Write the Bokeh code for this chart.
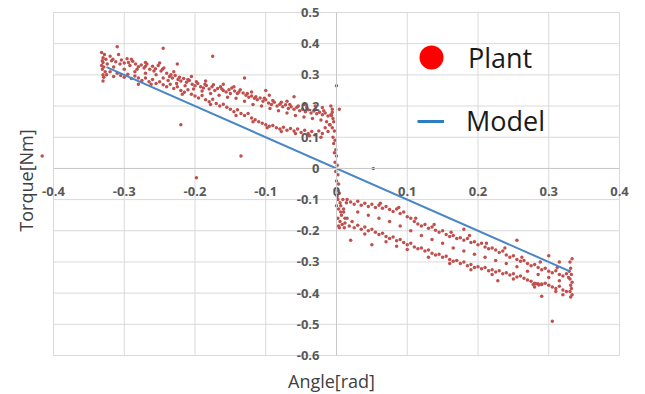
import math
from bokeh.plotting import figure
from bokeh.models import (Range1d, FixedTicker, Label, Legend, LegendItem,
                          ColumnDataSource)
from bokeh.embed import file_html
from bokeh.resources import INLINE

# ---------------- data ----------------
x_ticks = [-0.4, -0.3, -0.2, -0.1, 0.0, 0.1, 0.2, 0.3, 0.4]
x_tick_labels = ["-0.4", "-0.3", "-0.2", "-0.1", "0", "0.1", "0.2", "0.3", "0.4"]
y_ticks = [-0.6, -0.5, -0.4, -0.3, -0.2, -0.1, 0.0, 0.1, 0.2, 0.3, 0.4, 0.5]
y_tick_labels = ["-0.6", "-0.5", "-0.4", "-0.3", "-0.2", "-0.1", "0",
                 "0.1", "0.2", "0.3", "0.4", "0.5"]

# Plant: upper branch, negative angles
left_upper = [
    (-0.330, 0.355), (-0.330, 0.340), (-0.329, 0.325), (-0.328, 0.365), (-0.327, 0.310),
    (-0.326, 0.350), (-0.324, 0.335), (-0.320, 0.360), (-0.316, 0.350), (-0.312, 0.342),
    (-0.308, 0.365), (-0.304, 0.348), (-0.300, 0.338), (-0.296, 0.352), (-0.292, 0.330),
    (-0.288, 0.344), (-0.284, 0.335), (-0.280, 0.326), (-0.276, 0.332), (-0.272, 0.322),
    (-0.268, 0.335), (-0.264, 0.318), (-0.260, 0.328), (-0.256, 0.320), (-0.252, 0.330),
    (-0.248, 0.312), (-0.244, 0.322), (-0.240, 0.305), (-0.236, 0.295), (-0.232, 0.290),
    (-0.228, 0.298), (-0.224, 0.285), (-0.220, 0.280), (-0.216, 0.288), (-0.212, 0.276),
    (-0.208, 0.282), (-0.204, 0.270), (-0.200, 0.265), (-0.196, 0.272), (-0.192, 0.262),
    (-0.188, 0.258), (-0.184, 0.266), (-0.180, 0.255), (-0.176, 0.262), (-0.172, 0.250),
    (-0.168, 0.256), (-0.164, 0.262), (-0.160, 0.250), (-0.156, 0.245), (-0.152, 0.252),
    (-0.148, 0.258), (-0.144, 0.248), (-0.140, 0.240), (-0.136, 0.252), (-0.132, 0.242),
    (-0.128, 0.235), (-0.124, 0.228), (-0.120, 0.232), (-0.116, 0.225), (-0.112, 0.220),
    (-0.108, 0.226), (-0.104, 0.215), (-0.100, 0.220), (-0.096, 0.210), (-0.092, 0.205),
    (-0.088, 0.212), (-0.084, 0.200), (-0.080, 0.206), (-0.076, 0.198), (-0.072, 0.204),
    (-0.068, 0.192), (-0.064, 0.198), (-0.060, 0.190), (-0.056, 0.196), (-0.052, 0.185),
    (-0.048, 0.190), (-0.044, 0.182), (-0.040, 0.188), (-0.036, 0.178), (-0.032, 0.184),
    (-0.028, 0.175), (-0.024, 0.180), (-0.020, 0.172), (-0.016, 0.178), (-0.012, 0.168),
    (-0.008, 0.172),
    (-0.318, 0.345), (-0.306, 0.335), (-0.294, 0.340), (-0.282, 0.318), (-0.270, 0.328),
    (-0.258, 0.312), (-0.246, 0.318), (-0.234, 0.300), (-0.222, 0.292), (-0.210, 0.285),
    (-0.198, 0.278), (-0.186, 0.270), (-0.174, 0.268), (-0.162, 0.255), (-0.150, 0.240),
    (-0.138, 0.245), (-0.126, 0.240), (-0.114, 0.230), (-0.102, 0.225), (-0.090, 0.218),
    (-0.078, 0.212), (-0.066, 0.205), (-0.054, 0.200), (-0.042, 0.195), (-0.030, 0.190),
    (-0.018, 0.185), (-0.006, 0.180),
]

# Plant: scattered points between the two negative-angle branches
left_middle = [
    (-0.315, 0.325), (-0.300, 0.318), (-0.285, 0.310), (-0.270, 0.305), (-0.255, 0.300),
    (-0.245, 0.290), (-0.238, 0.282), (-0.226, 0.272), (-0.214, 0.265), (-0.202, 0.255),
    (-0.190, 0.248), (-0.178, 0.240), (-0.166, 0.235), (-0.154, 0.228), (-0.142, 0.225),
    (-0.130, 0.215), (-0.118, 0.205), (-0.106, 0.200), (-0.094, 0.192), (-0.082, 0.185),
    (-0.070, 0.178), (-0.058, 0.170), (-0.046, 0.165), (-0.034, 0.160), (-0.022, 0.155),
    (-0.014, 0.150), (-0.270, 0.340), (-0.250, 0.338), (-0.230, 0.310), (-0.205, 0.295),
    (-0.185, 0.280), (-0.160, 0.270), (-0.145, 0.262), (-0.120, 0.245), (-0.095, 0.235),
    (-0.070, 0.215), (-0.045, 0.205), (-0.020, 0.195),
]

# Plant: lower branch, negative angles
left_lower = [
    (-0.325, 0.300), (-0.320, 0.310), (-0.315, 0.295), (-0.310, 0.305), (-0.305, 0.298),
    (-0.300, 0.292), (-0.295, 0.302), (-0.290, 0.288), (-0.285, 0.296), (-0.280, 0.290),
    (-0.275, 0.282), (-0.270, 0.290), (-0.265, 0.278), (-0.260, 0.285), (-0.255, 0.272),
    (-0.250, 0.278), (-0.245, 0.268), (-0.240, 0.262), (-0.235, 0.270), (-0.230, 0.256),
    (-0.225, 0.262), (-0.220, 0.250), (-0.215, 0.244), (-0.210, 0.252), (-0.205, 0.238),
    (-0.200, 0.232), (-0.195, 0.226), (-0.190, 0.234), (-0.185, 0.220), (-0.180, 0.214),
    (-0.175, 0.222), (-0.170, 0.208), (-0.165, 0.200), (-0.160, 0.206), (-0.155, 0.196),
    (-0.150, 0.190), (-0.145, 0.182), (-0.140, 0.188), (-0.135, 0.176), (-0.130, 0.170),
    (-0.125, 0.176), (-0.120, 0.162), (-0.115, 0.156), (-0.110, 0.150), (-0.105, 0.145),
    (-0.100, 0.140), (-0.095, 0.135), (-0.090, 0.138), (-0.085, 0.130), (-0.080, 0.126),
    (-0.075, 0.132), (-0.070, 0.122), (-0.065, 0.128), (-0.060, 0.120), (-0.055, 0.126),
    (-0.050, 0.115), (-0.045, 0.122), (-0.040, 0.112), (-0.035, 0.118), (-0.030, 0.108),
    (-0.025, 0.120), (-0.020, 0.112), (-0.016, 0.130), (-0.012, 0.118), (-0.010, 0.140),
    (-0.262, 0.270), (-0.218, 0.238), (-0.178, 0.205), (-0.142, 0.170), (-0.118, 0.150),
    (-0.098, 0.130), (-0.078, 0.118), (-0.058, 0.112), (-0.038, 0.105), (-0.022, 0.100),
]

# Plant: steep transition around zero angle
near_zero = [
    (-0.008, 0.200), (-0.006, 0.190), (-0.005, 0.160), (-0.004, 0.150), (-0.006, 0.130),
    (-0.003, 0.120), (-0.005, 0.100), (-0.002, 0.090), (-0.004, 0.080), (-0.001, 0.060),
    (-0.003, 0.050), (0.000, 0.040), (-0.002, 0.020), (0.001, 0.010), (-0.001, -0.010),
    (0.002, -0.020), (0.000, -0.040), (0.003, -0.050), (0.001, -0.070), (0.004, -0.080),
    (0.002, -0.100), (0.005, -0.110), (0.003, -0.130), (0.006, -0.140), (0.002, -0.160),
    (0.005, -0.170), (0.004, -0.190), (0.008, -0.180), (0.006, -0.120), (0.009, -0.100),
    (0.007, -0.150), (0.010, -0.130), (-0.007, 0.170), (-0.009, 0.140), (0.001, -0.090),
    (0.000, -0.120), (0.003, -0.185), (0.012, -0.160), (0.014, -0.110), (0.011, -0.190),
]

# Plant: upper branch, positive angles
right_upper = [
    (0.015, -0.100), (0.020, -0.108), (0.025, -0.115), (0.030, -0.105), (0.035, -0.118),
    (0.040, -0.112), (0.045, -0.122), (0.050, -0.115), (0.055, -0.125), (0.060, -0.118),
    (0.065, -0.128), (0.070, -0.122), (0.075, -0.132), (0.080, -0.138), (0.085, -0.130),
    (0.090, -0.145), (0.095, -0.140), (0.100, -0.155), (0.105, -0.160), (0.110, -0.170),
    (0.115, -0.178), (0.120, -0.185), (0.125, -0.180), (0.130, -0.192), (0.135, -0.188),
    (0.140, -0.198), (0.145, -0.205), (0.150, -0.200), (0.155, -0.212), (0.160, -0.218),
    (0.165, -0.215), (0.170, -0.225), (0.175, -0.222), (0.180, -0.230), (0.185, -0.225),
    (0.190, -0.238), (0.195, -0.235), (0.200, -0.245), (0.205, -0.240), (0.210, -0.252),
    (0.215, -0.258), (0.220, -0.255), (0.225, -0.262), (0.230, -0.270), (0.235, -0.265),
    (0.240, -0.278), (0.245, -0.285), (0.250, -0.280), (0.255, -0.292), (0.260, -0.298),
    (0.265, -0.295), (0.270, -0.305), (0.275, -0.312), (0.280, -0.308), (0.285, -0.318),
    (0.290, -0.325), (0.295, -0.320), (0.300, -0.330), (0.305, -0.335), (0.310, -0.328),
    (0.315, -0.340), (0.320, -0.345), (0.325, -0.338),
    (0.062, -0.112), (0.088, -0.125), (0.112, -0.160), (0.138, -0.180), (0.162, -0.205),
    (0.188, -0.215), (0.212, -0.240), (0.238, -0.255), (0.262, -0.285), (0.288, -0.300),
    (0.312, -0.318),
]

# Plant: scattered points between the two positive-angle branches
right_middle = [
    (0.030, -0.140), (0.045, -0.150), (0.060, -0.160), (0.075, -0.170), (0.090, -0.185),
    (0.105, -0.200), (0.120, -0.215), (0.135, -0.228), (0.150, -0.240), (0.165, -0.255),
    (0.180, -0.265), (0.195, -0.275), (0.210, -0.285), (0.225, -0.295), (0.240, -0.305),
    (0.255, -0.315), (0.270, -0.330), (0.285, -0.340), (0.300, -0.350), (0.315, -0.360),
    (0.040, -0.210), (0.070, -0.235), (0.100, -0.260), (0.130, -0.285), (0.160, -0.305),
    (0.190, -0.325), (0.220, -0.340), (0.250, -0.355), (0.280, -0.380), (0.310, -0.395),
    (0.320, -0.405),
]

# Plant: lower branch, positive angles
right_lower = [
    (0.010, -0.140), (0.012, -0.175), (0.015, -0.160), (0.018, -0.185), (0.022, -0.170),
    (0.025, -0.190), (0.030, -0.182), (0.035, -0.195), (0.040, -0.188), (0.045, -0.200),
    (0.050, -0.195), (0.055, -0.205), (0.060, -0.212), (0.065, -0.208), (0.070, -0.218),
    (0.075, -0.225), (0.080, -0.220), (0.085, -0.232), (0.090, -0.228), (0.095, -0.238),
    (0.100, -0.245), (0.105, -0.240), (0.110, -0.252), (0.115, -0.258), (0.120, -0.255),
    (0.125, -0.265), (0.130, -0.262), (0.135, -0.272), (0.140, -0.278), (0.145, -0.275),
    (0.150, -0.285), (0.155, -0.282), (0.160, -0.292), (0.165, -0.298), (0.170, -0.295),
    (0.175, -0.305), (0.180, -0.300), (0.185, -0.312), (0.190, -0.308), (0.195, -0.318),
    (0.200, -0.315), (0.205, -0.322), (0.210, -0.318), (0.215, -0.328), (0.220, -0.325),
    (0.225, -0.332), (0.230, -0.328), (0.235, -0.338), (0.240, -0.335), (0.245, -0.342),
    (0.250, -0.338), (0.255, -0.348), (0.260, -0.345), (0.265, -0.352), (0.270, -0.358),
    (0.275, -0.362), (0.280, -0.368), (0.285, -0.370), (0.290, -0.372), (0.295, -0.368),
    (0.300, -0.375), (0.305, -0.380), (0.310, -0.385), (0.315, -0.378), (0.320, -0.390),
    (0.325, -0.395), (0.278, -0.372), (0.282, -0.370), (0.286, -0.374), (0.290, -0.371),
]

# Plant: clusters at the angle limits
end_clusters = [
    (0.330, -0.300), (0.331, -0.320), (0.332, -0.340), (0.330, -0.355), (0.333, -0.365),
    (0.331, -0.375), (0.332, -0.385), (0.330, -0.395), (0.333, -0.405), (0.331, -0.412),
    (0.328, -0.350), (0.329, -0.330),
    (-0.331, 0.345), (-0.332, 0.330), (-0.331, 0.318), (-0.330, 0.300), (-0.329, 0.292),
    (-0.332, 0.372),
]

# Plant: isolated points
outliers = [
    (-0.330, 0.280), (-0.310, 0.390), (-0.245, 0.385), (-0.175, 0.360), (-0.220, 0.140),
    (-0.135, 0.040), (-0.198, -0.030), (-0.130, 0.290), (-0.100, 0.250), (-0.280, 0.270),
    (-0.290, 0.350), (-0.225, 0.335), (-0.060, 0.230), (-0.030, 0.200), (0.000, 0.265),
    (0.004, 0.190), (0.052, 0.000), (0.050, -0.245), (0.228, -0.360), (0.255, -0.230),
    (0.300, -0.280), (0.315, -0.300), (0.333, -0.290), (0.290, -0.410), (0.305, -0.490),
    (0.180, -0.195), (0.020, -0.230), (0.085, -0.250), (-0.416, 0.040),
]

# Model line
model_x = [-0.325, 0.330]
model_y = [0.325, -0.330]

# ---------------- layout ----------------
W, H = 645, 394
# canvas pixels of the plot area's edges (x=-0.4 / 0.4, y=0.5 / -0.6)
AREA_L, AREA_R, AREA_T, AREA_B = 53, 619, 12, 355
kx = (AREA_R - AREA_L) / (x_ticks[-1] - x_ticks[0])
ky = (AREA_B - AREA_T) / (y_ticks[-1] - y_ticks[0])
x_range = Range1d(x_ticks[0] - AREA_L / kx, x_ticks[-1] + (W - AREA_R) / kx)
y_range = Range1d(y_ticks[0] - (H - AREA_B) / ky, y_ticks[-1] + AREA_T / ky)

plant = (left_upper + left_middle + left_lower + near_zero + right_upper
         + right_middle + right_lower + end_clusters + outliers)
plant_src = ColumnDataSource(data=dict(x=[q[0] for q in plant], y=[q[1] for q in plant]))

FONT = "Open Sans"
GRID = "#D9D9D9"
TICK_COLOR = "#595959"
NAN = float("nan")

p = figure(width=W, height=H, output_backend="svg", toolbar_location=None,
           x_range=x_range, y_range=y_range,
           min_border_left=0, min_border_right=0, min_border_top=0,
           min_border_bottom=0)
p.outline_line_color = None
p.background_fill_color = "white"
p.border_fill_color = "white"
p.xgrid.visible = False
p.ygrid.visible = False

# gridlines limited to the plot area
p.segment(x0=x_ticks, y0=[y_ticks[0]] * len(x_ticks), x1=x_ticks,
          y1=[y_ticks[-1]] * len(x_ticks), line_color=GRID, line_width=1)
p.segment(x0=[x_ticks[0]] * len(y_ticks), y0=y_ticks, x1=[x_ticks[-1]] * len(y_ticks),
          y1=y_ticks, line_color=GRID, line_width=1)

p.xaxis.ticker = FixedTicker(ticks=x_ticks)
p.yaxis.ticker = FixedTicker(ticks=y_ticks)
p.xaxis.major_label_overrides = dict(zip(x_ticks, x_tick_labels))
p.yaxis.major_label_overrides = dict(zip(y_ticks, y_tick_labels))
p.xaxis.bounds = (x_ticks[0], x_ticks[-1])
p.yaxis.bounds = (y_ticks[0], y_ticks[-1])
for ax in (p.xaxis[0], p.yaxis[0]):
    ax.fixed_location = 0
    ax.axis_line_color = "#C8C8C8"
    ax.major_tick_line_color = None
    ax.minor_tick_line_color = None
    ax.major_label_text_font = FONT
    ax.major_label_text_font_size = "13px"
    ax.major_label_text_font_style = "bold"
    ax.major_label_text_color = TICK_COLOR
p.xaxis.major_label_standoff = 13
p.yaxis.major_label_standoff = 11

p.scatter("x", "y", source=plant_src, size=3.5, color="#C0504D", line_width=0)
p.line(model_x, model_y, line_color="#4A86C5", line_width=2)

# legend glyph carriers (nothing drawn in the plot: NaN positions)
leg_dot = p.scatter(x=[NAN], y=[NAN], color="#FF0000", line_width=0)
leg_line = p.line(x=[NAN, NAN], y=[NAN, NAN], line_color="#2E7CC4", line_width=3)

lg1 = Legend(items=[LegendItem(label="Plant", renderers=[leg_dot])],
             location=(401, H - 87), glyph_width=60, glyph_height=60,
             label_standoff=7, padding=0, margin=0, spacing=0,
             label_text_font=FONT, label_text_font_size="27px",
             label_text_color="#1A1A1A",
             background_fill_alpha=0, border_line_alpha=0)
lg2 = Legend(items=[LegendItem(label="Model", renderers=[leg_line])],
             location=(417, H - 139), glyph_width=27, glyph_height=28,
             label_height=28, label_standoff=22, padding=0, margin=0, spacing=0,
             label_text_font=FONT, label_text_font_size="27px",
             label_text_color="#1A1A1A",
             background_fill_alpha=0, border_line_alpha=0)
p.add_layout(lg1, "center")
p.add_layout(lg2, "center")

p.add_layout(Label(x=25, y=180, x_units="canvas", y_units="canvas",
                   text="Torque[Nm]", angle=math.pi / 2, text_align="center",
                   text_baseline="middle", text_font=FONT, text_font_size="18px",
                   text_color="#404040"))
p.add_layout(Label(x=331, y=380, x_units="canvas", y_units="canvas",
                   text="Angle[rad]", text_align="center",
                   text_baseline="middle", text_font=FONT, text_font_size="18px",
                   text_color="#404040"))

open("out.html", "w").write(file_html(p, INLINE))
